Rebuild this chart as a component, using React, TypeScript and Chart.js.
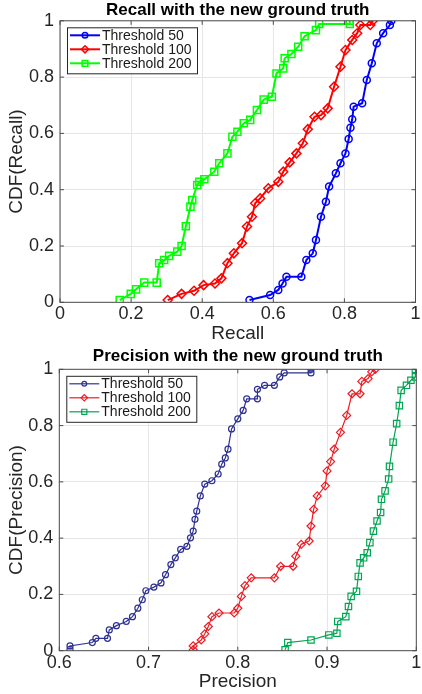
import { useEffect, useRef } from "react";
import { Chart, registerables } from "chart.js";

Chart.register(...registerables);

const FONT = "'Liberation Sans', Arial, Helvetica, sans-serif";

// ---------- Recall panel data ----------
const seriesLabels = ["Threshold 50", "Threshold 100", "Threshold 200"];

const recall50X = [0.533, 0.591, 0.614, 0.626, 0.637, 0.679, 0.693, 0.711, 0.72, 0.734, 0.748, 0.757, 0.776, 0.789, 0.803, 0.812, 0.817, 0.822, 0.826, 0.85, 0.863, 0.877, 0.891, 0.909, 0.928, 0.932];
const recall50Y = [0.008, 0.026, 0.044, 0.067, 0.091, 0.091, 0.15, 0.174, 0.221, 0.304, 0.357, 0.411, 0.458, 0.494, 0.529, 0.58, 0.62, 0.65, 0.695, 0.707, 0.79, 0.849, 0.92, 0.956, 0.985, 1.0];

const recall100X = [0.303, 0.342, 0.377, 0.404, 0.436, 0.454, 0.471, 0.489, 0.512, 0.526, 0.54, 0.549, 0.563, 0.586, 0.614, 0.628, 0.646, 0.665, 0.683, 0.697, 0.716, 0.734, 0.753, 0.771, 0.789, 0.803, 0.822, 0.836, 0.845, 0.873, 0.88];
const recall100Y = [0.008, 0.03, 0.041, 0.061, 0.067, 0.085, 0.139, 0.174, 0.21, 0.269, 0.304, 0.352, 0.369, 0.405, 0.428, 0.464, 0.497, 0.529, 0.565, 0.615, 0.659, 0.665, 0.689, 0.766, 0.837, 0.896, 0.932, 0.956, 0.985, 0.985, 1.0];

const recall200X = [0.168, 0.199, 0.214, 0.237, 0.272, 0.279, 0.293, 0.307, 0.33, 0.342, 0.354, 0.367, 0.372, 0.386, 0.392, 0.406, 0.434, 0.448, 0.471, 0.485, 0.499, 0.517, 0.535, 0.554, 0.573, 0.596, 0.609, 0.628, 0.632, 0.651, 0.67, 0.688, 0.72, 0.729, 0.815, 0.815];
const recall200Y = [0.008, 0.03, 0.046, 0.07, 0.07, 0.139, 0.15, 0.165, 0.18, 0.2, 0.27, 0.34, 0.363, 0.417, 0.428, 0.437, 0.464, 0.494, 0.529, 0.588, 0.606, 0.636, 0.648, 0.683, 0.72, 0.73, 0.813, 0.831, 0.867, 0.882, 0.908, 0.945, 0.967, 0.989, 0.989, 1.0];

// ---------- Precision panel data ----------
const prec50X = [0.612, 0.612, 0.637, 0.641, 0.654, 0.656, 0.664, 0.675, 0.682, 0.688, 0.693, 0.697, 0.706, 0.714, 0.719, 0.725, 0.73, 0.736, 0.743, 0.747, 0.75, 0.752, 0.754, 0.758, 0.763, 0.771, 0.778, 0.782, 0.786, 0.789, 0.793, 0.8, 0.806, 0.81, 0.822, 0.822, 0.83, 0.841, 0.847, 0.852, 0.882, 0.882];
const prec50Y = [0.005, 0.017, 0.029, 0.044, 0.044, 0.074, 0.089, 0.104, 0.121, 0.151, 0.181, 0.213, 0.226, 0.241, 0.27, 0.306, 0.33, 0.36, 0.371, 0.401, 0.425, 0.467, 0.496, 0.55, 0.592, 0.604, 0.628, 0.663, 0.685, 0.716, 0.788, 0.824, 0.854, 0.895, 0.895, 0.929, 0.943, 0.943, 0.973, 0.987, 0.987, 1.0];

const prec100X = [0.75, 0.75, 0.759, 0.763, 0.767, 0.771, 0.779, 0.796, 0.8, 0.804, 0.808, 0.815, 0.841, 0.848, 0.862, 0.865, 0.871, 0.88, 0.882, 0.885, 0.889, 0.898, 0.9, 0.904, 0.908, 0.915, 0.922, 0.928, 0.937, 0.939, 0.946, 0.95, 0.954];
const prec100Y = [0.003, 0.017, 0.038, 0.06, 0.086, 0.121, 0.134, 0.134, 0.151, 0.193, 0.231, 0.259, 0.259, 0.3, 0.3, 0.336, 0.378, 0.39, 0.443, 0.502, 0.55, 0.586, 0.639, 0.672, 0.716, 0.776, 0.836, 0.913, 0.913, 0.957, 0.967, 0.991, 1.0];

const prec200X = [0.853, 0.856, 0.882, 0.902, 0.911, 0.912, 0.921, 0.924, 0.927, 0.933, 0.935, 0.937, 0.941, 0.945, 0.948, 0.952, 0.956, 0.96, 0.961, 0.965, 0.969, 0.97, 0.974, 0.978, 0.981, 0.983, 0.989, 0.994, 0.999, 0.999];
const prec200Y = [0.003, 0.029, 0.038, 0.056, 0.062, 0.104, 0.121, 0.157, 0.193, 0.211, 0.264, 0.312, 0.33, 0.348, 0.384, 0.425, 0.461, 0.491, 0.538, 0.568, 0.61, 0.655, 0.741, 0.807, 0.871, 0.925, 0.943, 0.961, 0.973, 1.0];

type Marker = "circle" | "rectRot" | "rect";

interface SeriesCfg {
  label: string;
  xs: number[];
  ys: number[];
  color: string;
  marker: Marker;
  radius: number;
  lineWidth: number;
  markerWidth: number;
}

interface PanelCfg {
  top: number;
  height: number;
  title: string;
  xTitle: string;
  yTitle: string;
  xMin: number;
  xMax: number;
  xStep: number;
  padRight: number;
  yAxisWidth: number;
  xAxisHeight: number;
  titlePadTop: number;
  titlePadBottom: number;
  xTickPad: number;
  xTitlePadBottom: number;
  series: SeriesCfg[];
}

function toPoints(xs: number[], ys: number[]) {
  return xs.map((x, i) => ({ x, y: ys[i] }));
}

function fmtTick(v: number | string) {
  return String(parseFloat(Number(v).toFixed(3)));
}

function drawMarker(ctx: CanvasRenderingContext2D, m: Marker, x: number, y: number, r: number) {
  ctx.beginPath();
  if (m === "circle") {
    ctx.arc(x, y, r, 0, Math.PI * 2);
  } else if (m === "rect") {
    const s = r * Math.SQRT1_2;
    ctx.rect(x - s, y - s, 2 * s, 2 * s);
  } else {
    ctx.moveTo(x, y - r);
    ctx.lineTo(x + r, y);
    ctx.lineTo(x, y + r);
    ctx.lineTo(x - r, y);
    ctx.closePath();
  }
  ctx.stroke();
}

function makeFramePlugin(cfg: PanelCfg) {
  return {
    id: "frameAndLegend",
    afterDraw(chart: any) {
      const ctx: CanvasRenderingContext2D = chart.ctx;
      const { left, right, top, bottom } = chart.chartArea;
      const xs = chart.scales.x;
      const ys = chart.scales.y;
      ctx.save();
      // frame
      ctx.strokeStyle = "#4d4d4d";
      ctx.lineWidth = 1;
      ctx.strokeRect(left, top, right - left, bottom - top);
      // inward ticks
      ctx.beginPath();
      const tl = 4;
      xs.ticks.forEach((t: any) => {
        const px = xs.getPixelForValue(t.value);
        ctx.moveTo(px, bottom);
        ctx.lineTo(px, bottom - tl);
        ctx.moveTo(px, top);
        ctx.lineTo(px, top + tl);
      });
      ys.ticks.forEach((t: any) => {
        const py = ys.getPixelForValue(t.value);
        ctx.moveTo(left, py);
        ctx.lineTo(left + tl, py);
        ctx.moveTo(right, py);
        ctx.lineTo(right - tl, py);
      });
      ctx.stroke();

      // legend
      const bx = left + 7.5;
      const by = top + 7;
      const bw = 130;
      const bh = 46;
      ctx.fillStyle = "#ffffff";
      ctx.fillRect(bx, by, bw, bh);
      ctx.strokeStyle = "#262626";
      ctx.lineWidth = 1;
      ctx.strokeRect(bx, by, bw, bh);
      ctx.font = `14px ${FONT}`;
      ctx.textBaseline = "middle";
      ctx.textAlign = "left";
      cfg.series.forEach((s, i) => {
        const ry = by + 7.5 + i * 14;
        ctx.strokeStyle = s.color;
        ctx.lineWidth = s.lineWidth;
        ctx.beginPath();
        ctx.moveTo(bx + 2.5, ry);
        ctx.lineTo(bx + 32.5, ry);
        ctx.stroke();
        ctx.lineWidth = s.markerWidth;
        drawMarker(ctx, s.marker, bx + 17.5, ry, s.radius * 0.8);
        ctx.fillStyle = "#1a1a1a";
        ctx.fillText(s.label, bx + 34.5, ry + 0.5);
      });
      ctx.restore();
    },
  };
}

function Panel({ cfg }: { cfg: PanelCfg }) {
  const ref = useRef<HTMLCanvasElement>(null);
  useEffect(() => {
    if (!ref.current) return;
    const chart = new Chart(ref.current, {
      type: "scatter",
      data: {
        datasets: cfg.series.map((s) => ({
          label: s.label,
          data: toPoints(s.xs, s.ys),
          showLine: true,
          borderColor: s.color,
          borderWidth: s.lineWidth,
          tension: 0,
          pointStyle: s.marker,
          pointRadius: s.radius,
          pointBorderWidth: s.markerWidth,
          pointBorderColor: s.color,
          pointBackgroundColor: "rgba(0,0,0,0)",
        })),
      },
      options: {
        responsive: false,
        animation: false,
        layout: { padding: { left: 0, right: cfg.padRight, top: 0, bottom: 0 } },
        plugins: {
          legend: { display: false },
          tooltip: { enabled: false },
          title: {
            display: true,
            text: cfg.title,
            fullSize: false,
            color: "#000000",
            font: { family: FONT, size: 17, weight: "bold" },
            padding: { top: cfg.titlePadTop, bottom: cfg.titlePadBottom },
          },
        },
        scales: {
          x: {
            type: "linear",
            min: cfg.xMin,
            max: cfg.xMax,
            grid: { color: "#e6e6e6", drawTicks: false },
            border: { display: false },
            ticks: {
              stepSize: cfg.xStep,
              autoSkip: false,
              maxRotation: 0,
              padding: cfg.xTickPad,
              color: "#262626",
              font: { family: FONT, size: 18 },
              callback: (v: any) => fmtTick(v),
            },
            title: {
              display: true,
              text: cfg.xTitle,
              color: "#262626",
              font: { family: FONT, size: 19 },
              padding: { top: 0, bottom: cfg.xTitlePadBottom },
            },
            afterFit: (s: any) => {
              s.height = cfg.xAxisHeight;
              s.paddingLeft = 0;
              s.paddingRight = 0;
            },
          },
          y: {
            type: "linear",
            min: 0,
            max: 1,
            grid: { color: "#e6e6e6", drawTicks: false },
            border: { display: false },
            ticks: {
              stepSize: 0.2,
              padding: 6,
              color: "#262626",
              font: { family: FONT, size: 18 },
              callback: (v: any) => fmtTick(v),
            },
            title: {
              display: true,
              text: cfg.yTitle,
              color: "#262626",
              font: { family: FONT, size: 19 },
              padding: { top: 5, bottom: 0 },
            },
            afterFit: (s: any) => {
              s.width = cfg.yAxisWidth;
              s.paddingTop = 0;
              s.paddingBottom = 0;
            },
          },
        },
      },
      plugins: [makeFramePlugin(cfg)],
    } as any);
    return () => chart.destroy();
  }, [cfg]);
  return (
    <canvas
      ref={ref}
      width={422}
      height={cfg.height}
      style={{ position: "absolute", left: 0, top: cfg.top, width: 422, height: cfg.height }}
    />
  );
}

const topColors = ["#0000ff", "#ff0000", "#00ff00"];
const bottomColors = ["#2e3192", "#ed1c24", "#00a651"];

const recallPanel: PanelCfg = {
  top: 0,
  height: 345,
  title: "Recall with the new ground truth",
  xTitle: "Recall",
  yTitle: "CDF(Recall)",
  xMin: 0,
  xMax: 1,
  xStep: 0.2,
  padRight: 0.8,
  yAxisWidth: 60,
  xAxisHeight: 42.7,
  titlePadTop: 0,
  titlePadBottom: 0.4,
  xTickPad: 1,
  xTitlePadBottom: 0,
  series: [
    { label: seriesLabels[0], xs: recall50X, ys: recall50Y, color: topColors[0], marker: "circle", radius: 3.5, lineWidth: 2, markerWidth: 1.5 },
    { label: seriesLabels[1], xs: recall100X, ys: recall100Y, color: topColors[1], marker: "rectRot", radius: 4.5, lineWidth: 2, markerWidth: 1.5 },
    { label: seriesLabels[2], xs: recall200X, ys: recall200Y, color: topColors[2], marker: "rect", radius: 5, lineWidth: 2, markerWidth: 1.5 },
  ],
};

const precisionPanel: PanelCfg = {
  top: 345,
  height: 349,
  title: "Precision with the new ground truth",
  xTitle: "Precision",
  yTitle: "CDF(Precision)",
  xMin: 0.6,
  xMax: 1,
  xStep: 0.1,
  padRight: 2,
  yAxisWidth: 59.3,
  xAxisHeight: 43.3,
  titlePadTop: 1.5,
  titlePadBottom: 2.4,
  xTickPad: 1.5,
  xTitlePadBottom: 1.3,
  series: [
    { label: seriesLabels[0], xs: prec50X, ys: prec50Y, color: bottomColors[0], marker: "circle", radius: 3, lineWidth: 1.2, markerWidth: 1.2 },
    { label: seriesLabels[1], xs: prec100X, ys: prec100Y, color: bottomColors[1], marker: "rectRot", radius: 4, lineWidth: 1.2, markerWidth: 1.2 },
    { label: seriesLabels[2], xs: prec200X, ys: prec200Y, color: bottomColors[2], marker: "rect", radius: 4.5, lineWidth: 1.2, markerWidth: 1.2 },
  ],
};

export default function App() {
  return (
    <div style={{ position: "absolute", left: 0, top: 0, width: 422, height: 694, background: "#ffffff" }}>
      <Panel cfg={recallPanel} />
      <Panel cfg={precisionPanel} />
    </div>
  );
}
